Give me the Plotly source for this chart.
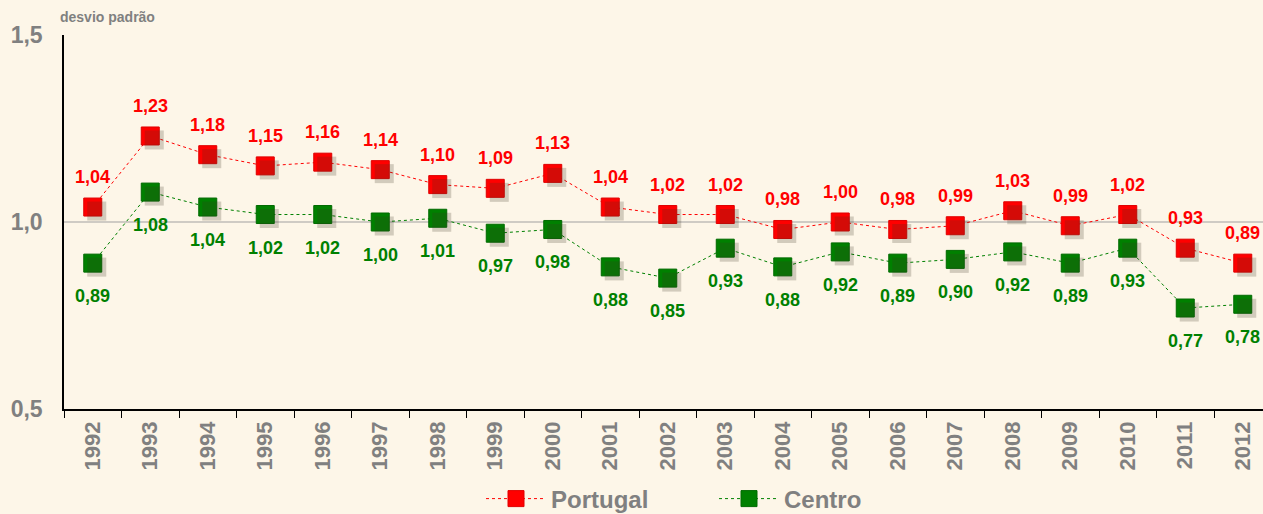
import plotly.graph_objects as go

years = [str(y) for y in range(1992, 2013)]
portugal = [1.04, 1.23, 1.18, 1.15, 1.16, 1.14, 1.10, 1.09, 1.13, 1.04, 1.02,
            1.02, 0.98, 1.00, 0.98, 0.99, 1.03, 0.99, 1.02, 0.93, 0.89]
centro = [0.89, 1.08, 1.04, 1.02, 1.02, 1.00, 1.01, 0.97, 0.98, 0.88, 0.85,
          0.93, 0.88, 0.92, 0.89, 0.90, 0.92, 0.89, 0.93, 0.77, 0.78]

RED = "#FF0000"
GREEN = "#008000"
GREY = "#808080"
BG = "#FDF6E8"
FONT = "Liberation Sans, Arial"

W, H = 1263, 514
ML, MR, MT, MB = 64, 0, 35, 105
plot_w = W - ML - MR
plot_h = H - MT - MB
cat_px = 57.5
x_range = [-0.5, -0.5 + plot_w / cat_px]
y_range = [0.5, 1.5]

# drop shadow offset in pixels, applied through a shifted overlay axis pair
sx, sy = 4, 4
x_range_sh = [x_range[0] - sx / cat_px, x_range[1] - sx / cat_px]
y_range_sh = [y_range[0] + sy * (y_range[1] - y_range[0]) / plot_h,
              y_range[1] + sy * (y_range[1] - y_range[0]) / plot_h]

fig = go.Figure()

for vals in (portugal, centro):
    fig.add_trace(go.Scatter(
        x=years, y=vals, mode="markers", xaxis="x2", yaxis="y2",
        marker=dict(symbol="square", size=19, color="rgba(60,50,30,0.22)",
                    line=dict(width=0)),
        showlegend=False, hoverinfo="skip"))

fig.add_trace(go.Scatter(
    x=years, y=portugal, name="Portugal", mode="lines+markers",
    line=dict(color=RED, width=1, dash="dot"),
    marker=dict(symbol="square", size=18, color=RED,
                line=dict(color="#E00000", width=1))))
fig.add_trace(go.Scatter(
    x=years, y=centro, name="Centro", mode="lines+markers",
    line=dict(color=GREEN, width=1, dash="dot"),
    marker=dict(symbol="square", size=18, color=GREEN,
                line=dict(color="#006A00", width=1))))


def fmt(v):
    return f"{v:.2f}".replace(".", ",")


annotations = []
for i, v in enumerate(portugal):
    annotations.append(dict(
        x=i, y=v, xref="x", yref="y", text=fmt(v), showarrow=False,
        yshift=30, font=dict(family=FONT, size=18, color=RED, weight="bold")))
for i, v in enumerate(centro):
    annotations.append(dict(
        x=i, y=v, xref="x", yref="y", text=fmt(v), showarrow=False,
        yshift=-33, font=dict(family=FONT, size=18, color=GREEN, weight="bold")))
annotations.append(dict(
    x=(58 - ML) / plot_w, y=(H - MB - 17) / plot_h, xref="paper", yref="paper",
    xanchor="left", yanchor="middle", text="desvio padrão", showarrow=False,
    font=dict(family=FONT, size=14, color=GREY, weight="bold")))

fig.update_layout(
    width=W, height=H,
    margin=dict(l=ML, r=MR, t=MT, b=MB, autoexpand=False),
    paper_bgcolor=BG, plot_bgcolor=BG,
    separators=",.",
    font=dict(family=FONT, color=GREY, weight="bold"),
    xaxis=dict(
        type="category", range=x_range, tickson="boundaries",
        categoryorder="array", categoryarray=years,
        showgrid=False, showline=True, linecolor="black", linewidth=1.5,
        ticks="outside", ticklen=7, tickcolor="black", tickwidth=1.2,
        tickangle=-90, tickfont=dict(size=22, color=GREY, weight="bold"),
        ticklabelstandoff=2, fixedrange=True),
    yaxis=dict(
        range=y_range, tickvals=[0.5, 1.0, 1.5], tickformat=".1f",
        showgrid=True, gridcolor="#CFCBC4", gridwidth=1.5,
        showline=True, linecolor="black", linewidth=1.5,
        zeroline=False, ticks="", ticklabelstandoff=15,
        tickfont=dict(size=23, color=GREY, weight="bold")),
    xaxis2=dict(type="category", range=x_range_sh, overlaying="x",
                visible=False, categoryorder="array", categoryarray=years),
    yaxis2=dict(range=y_range_sh, overlaying="y", visible=False),
    legend=dict(orientation="h", xref="container", x=481 / W, xanchor="left",
                yref="container", y=(H - 499) / H, yanchor="middle",
                bgcolor="rgba(0,0,0,0)",
                font=dict(size=24, color=GREY, weight="bold"),
                entrywidth=158, entrywidthmode="pixels",
                itemwidth=60),
    annotations=annotations,
    showlegend=True,
)

fig.write_html("out.html")
